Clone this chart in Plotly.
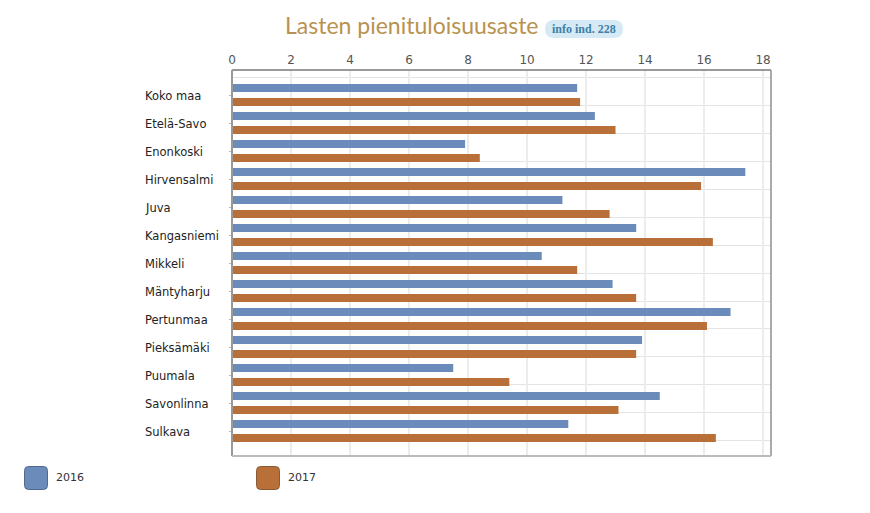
import plotly.graph_objects as go

W, H = 870, 513
L, R, T, B = 232, 771, 70, 456

categories = ["Koko maa", "Etelä-Savo", "Enonkoski", "Hirvensalmi", "Juva", "Kangasniemi", "Mikkeli",
              "Mäntyharju", "Pertunmaa", "Pieksämäki", "Puumala", "Savonlinna", "Sulkava"]
values_2016 = [11.7, 12.3, 7.9, 17.4, 11.2, 13.7, 10.5, 12.9, 16.9, 13.9, 7.5, 14.5, 11.4]
values_2017 = [11.8, 13.0, 8.4, 15.9, 12.8, 16.3, 11.7, 13.7, 16.1, 13.7, 9.4, 13.1, 16.4]
x_ticks = [0, 2, 4, 6, 8, 10, 12, 14, 16, 18]

BLUE = "#6b8cba"
BROWN = "#b86f38"
FONT = "DejaVu Sans"


# pixel position in the page -> paper coordinates
def px(x):
    return (x - L) / (R - L)


def py(y):
    return (B - y) / (B - T)


def round_box(x0, y0, x1, y1, r):
    a, b, c, d = px(x0), px(x1), py(y0), py(y1)
    rx, ry = r / (R - L), r / (B - T)
    return (f"M {a + rx} {c} L {b - rx} {c} Q {b} {c} {b} {c - ry} L {b} {d + ry} Q {b} {d} {b - rx} {d} "
            f"L {a + rx} {d} Q {a} {d} {a} {d + ry} L {a} {c - ry} Q {a} {c} {a + rx} {c} Z")


y_pos = list(range(len(categories)))

fig = go.Figure()
fig.add_trace(go.Bar(y=y_pos, x=values_2016, name="2016", orientation="h", marker=dict(color=BLUE, line_width=0),
                     width=0.286, offset=-0.393))
fig.add_trace(go.Bar(y=y_pos, x=values_2017, name="2017", orientation="h", marker=dict(color=BROWN, line_width=0),
                     width=0.286, offset=0.107))

fig.update_xaxes(side="top", range=[0, 18.27], tickvals=x_ticks, showgrid=True, gridcolor="#ececec", gridwidth=2,
                 tickfont=dict(family=FONT, size=12, color="#555"), ticks="", zeroline=False, showline=False,
                 ticklabelstandoff=3)
fig.update_yaxes(range=[12.893, -0.893], tickvals=y_pos, ticktext=[""] * len(y_pos), showgrid=False, zeroline=False,
                 ticks="outside", ticklen=2, tickcolor="#bbb",
                 minor=dict(tick0=0.357, dtick=1, showgrid=True, gridcolor="#e3e3e3", gridwidth=1, ticks=""))

shapes = [
    dict(type="line", xref="paper", yref="paper", x0=0, x1=1, y0=1, y1=1, line=dict(color="#999", width=2)),
    dict(type="line", xref="paper", yref="paper", x0=0, x1=0, y0=0, y1=1, line=dict(color="#999", width=2)),
    dict(type="line", xref="paper", yref="paper", x0=1, x1=1, y0=0, y1=1, line=dict(color="#aaa", width=2)),
    dict(type="line", xref="paper", yref="paper", x0=0, x1=1, y0=0, y1=0, line=dict(color="#bbb", width=2)),
    # legend swatches and the info badge
    dict(type="path", xref="paper", yref="paper", path=round_box(24.5, 466.5, 47.5, 489.5, 4), fillcolor=BLUE,
         line=dict(color="#50698c", width=1)),
    dict(type="path", xref="paper", yref="paper", path=round_box(256.5, 466.5, 279.5, 489.5, 4), fillcolor=BROWN,
         line=dict(color="#8a5a38", width=1)),
    dict(type="path", xref="paper", yref="paper", path=round_box(545, 20, 623, 38, 9), fillcolor="#d6eaf5",
         line_width=0),
]

annotations = [
    dict(xref="paper", yref="paper", x=px(283), y=py(25), xanchor="left", yanchor="middle", showarrow=False,
         text="Lasten pienituloisuusaste", font=dict(family="Lato", size=23, color="#b8924f")),
    dict(xref="paper", yref="paper", x=px(584), y=py(29), xanchor="center", yanchor="middle", showarrow=False,
         text="<b>info ind. 228</b>", font=dict(family="Liberation Serif", size=12, color="#3d80a8")),
    dict(xref="paper", yref="paper", x=px(54), y=py(477), xanchor="left", yanchor="middle", showarrow=False,
         text="2016", font=dict(family=FONT, size=11, color="#333")),
    dict(xref="paper", yref="paper", x=px(286), y=py(477), xanchor="left", yanchor="middle", showarrow=False,
         text="2017", font=dict(family=FONT, size=11, color="#333")),
]
# category labels are left aligned in the source, tick labels can't do that
for i, cat in zip(y_pos, categories):
    annotations.append(dict(xref="paper", yref="y", x=px(143), y=i, xanchor="left", yanchor="middle", showarrow=False,
                            text=cat, font=dict(family=FONT, size=11.5, color="#222"), yshift=-0.5))

fig.update_layout(width=W, height=H, margin=dict(l=L, r=W - R, t=T, b=H - B, pad=0, autoexpand=False),
                  plot_bgcolor="white", paper_bgcolor="white", showlegend=False, shapes=shapes,
                  annotations=annotations)

fig.write_html("out.html", config={"displayModeBar": False}, post_script="document.body.style.margin='0';")
